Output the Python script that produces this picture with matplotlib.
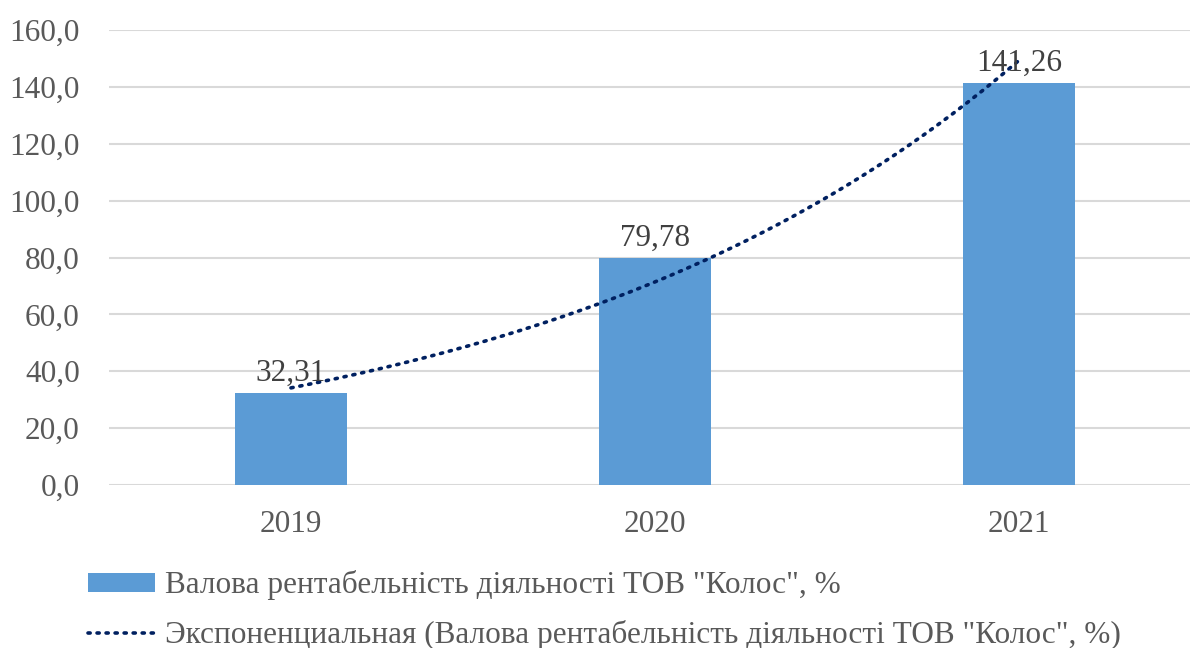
import numpy as np
import matplotlib.pyplot as plt

plt.rcParams['font.family'] = ['Liberation Serif', 'DejaVu Serif']

years = ['2019', '2020', '2021']
values = [32.31, 79.78, 141.26]
labels = ['32,31', '79,78', '141,26']
yticks = [0, 20, 40, 60, 80, 100, 120, 140, 160]
bar_name = 'Валова рентабельність діяльності ТОВ "Колос", %'
trend_name = 'Экспоненциальная (Валова рентабельність діяльності ТОВ "Колос", %)'

fig = plt.figure(figsize=(11.9, 6.48), dpi=100)
ax = fig.add_axes([109 / 1190, 163 / 648, 1 - 109 / 1190, 455 / 648])

x = np.arange(len(years))
bars = ax.bar(x, values, width=0.31, color='#5b9bd5', label=bar_name, zorder=2)

# exponential trend, fitted on the bar values
k, b = np.polyfit(x + 1, np.log(values), 1)
xs = np.linspace(0, len(years) - 1, 200)
trend, = ax.plot(xs, np.exp(b + k * (xs + 1)), color='#002060', lw=2.6,
                 linestyle=(0, (0.6, 1.9)), dash_capstyle='round', label=trend_name, zorder=3)

for xi, v, lab in zip(x, values, labels):
    ax.annotate(lab, (xi, v), xytext=(0, 4), textcoords='offset points',
                ha='center', va='bottom', fontsize=22.5, color='#404040')

ax.set_xlim(-0.5, 2.47)
ax.set_ylim(0, 160)
ax.set_yticks(yticks)
ax.set_yticklabels([f'{t:.1f}'.replace('.', ',') for t in yticks])
ax.set_xticks(x)
ax.set_xticklabels(years)
ax.tick_params(axis='both', length=0, labelsize=22.5, colors='#595959')
ax.tick_params(axis='y', pad=21)
ax.tick_params(axis='x', pad=18)
ax.grid(axis='y', color='#d9d9d9', lw=1.5, zorder=0)
ax.set_axisbelow(True)
for s in ax.spines.values():
    s.set_visible(False)

fig.legend([bars, trend], [bar_name, trend_name], loc='upper left',
           bbox_to_anchor=(0.074, 0.12), frameon=False,
           fontsize=22.5, labelcolor='#595959', handlelength=2.15, handleheight=0.55,
           handletextpad=0.3, labelspacing=0.63, borderaxespad=0, borderpad=0)

fig.savefig('out.png', dpi=100)
